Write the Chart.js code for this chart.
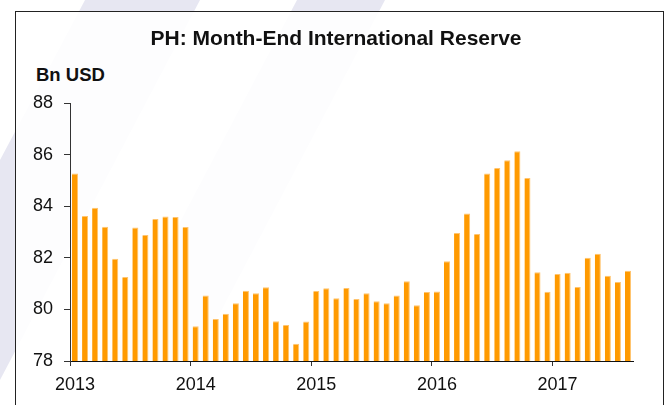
<!DOCTYPE html>
<html lang="en">
<head>
    <meta charset="UTF-8">
    <title>PH: Month-End International Reserve</title>
    <script src="https://cdn.jsdelivr.net/npm/chart.js"></script>
    <style>
        html, body {
            margin: 0;
            padding: 0;
            width: 672px;
            height: 405px;
            overflow: hidden;
            background: #fff;
            font-family: "Liberation Sans", Arial, sans-serif;
        }
        /* faint diagonal watermark bands */
        .band {
            position: absolute;
            left: 0; top: 0;
            width: 672px; height: 405px;
            background: #e7e7f2;
        }
        .band1 { clip-path: polygon(85px 0, 200px 0, 0 380px, 0 160px); }
        .band2 { clip-path: polygon(297px 0, 385px 0, 190px 370px, 102px 370px); }
        .frame {
            position: absolute;
            left: 15px; top: 11px;
            width: 647px; height: 420px;
            border: 1px solid #222;
            background: rgba(255, 255, 255, 0.9);
        }
        .unit {
            position: absolute;
            left: 36px; top: 66px;
            font-size: 18.5px;
            line-height: 18.5px;
            font-weight: bold;
            color: #111;
        }
        canvas {
            position: absolute;
            left: 0; top: 0;
        }
    </style>
</head>
<body>
    <div class="band band1"></div>
    <div class="band band2"></div>
    <div class="frame"></div>
    <div class="unit">Bn USD</div>
    <canvas id="reserveChart" width="672" height="405"></canvas>

    <script>
        const months = [
            '2013-01','2013-02','2013-03','2013-04','2013-05','2013-06','2013-07','2013-08','2013-09','2013-10','2013-11','2013-12',
            '2014-01','2014-02','2014-03','2014-04','2014-05','2014-06','2014-07','2014-08','2014-09','2014-10','2014-11','2014-12',
            '2015-01','2015-02','2015-03','2015-04','2015-05','2015-06','2015-07','2015-08','2015-09','2015-10','2015-11','2015-12',
            '2016-01','2016-02','2016-03','2016-04','2016-05','2016-06','2016-07','2016-08','2016-09','2016-10','2016-11','2016-12',
            '2017-01','2017-02','2017-03','2017-04','2017-05','2017-06','2017-07','2017-08'
        ];

        // Bn USD, month-end
        const reserves = [
            85.27, 83.62, 83.94, 83.20, 81.96, 81.26, 83.17, 82.88, 83.50, 83.60, 83.58, 83.19,
            79.35, 80.54, 79.63, 79.83, 80.24, 80.72, 80.63, 80.86, 79.54, 79.40, 78.67, 79.53,
            80.71, 80.82, 80.43, 80.83, 80.40, 80.63, 80.32, 80.24, 80.54, 81.09, 80.16, 80.67,
            80.69, 81.87, 82.96, 83.72, 82.92, 85.27, 85.48, 85.78, 86.13, 85.09, 81.44, 80.68,
            81.37, 81.42, 80.87, 82.00, 82.16, 81.30, 81.06, 81.50
        ];

        const yearLabels = ['2013', '2014', '2015', '2016', '2017'];
        const yTicks = [78, 80, 82, 84, 86, 88];

        const fontFamily = '"Liberation Sans", Arial, sans-serif';

        const ctx = document.getElementById('reserveChart').getContext('2d');
        new Chart(ctx, {
            type: 'bar',
            data: {
                labels: months,
                datasets: [{
                    label: 'International Reserve (Bn USD)',
                    data: reserves,
                    backgroundColor: '#ff9a00',
                    borderColor: '#ffc46e',
                    borderWidth: { top: 1, right: 1, left: 0, bottom: 0 },
                    borderSkipped: false,
                    categoryPercentage: 1.0,
                    barPercentage: 0.6
                }]
            },
            options: {
                responsive: false,
                animation: false,
                layout: { padding: 0 },
                plugins: {
                    legend: { display: false },
                    tooltip: { enabled: false },
                    title: {
                        display: true,
                        text: 'PH: Month-End International Reserve',
                        color: '#111',
                        font: { family: fontFamily, size: 21, weight: 'bold', lineHeight: 1.2 },
                        padding: { top: 27, bottom: 50.8 }
                    }
                },
                scales: {
                    x: {
                        grid: {
                            drawOnChartArea: false,
                            tickLength: 5,
                            color: (c) => (c.index % 12 === 0 ? '#333' : 'rgba(0,0,0,0)')
                        },
                        border: { display: true, color: '#111', width: 1 },
                        ticks: {
                            autoSkip: false,
                            maxRotation: 0,
                            padding: 8,
                            color: '#111',
                            font: { family: fontFamily, size: 18 },
                            callback: function (value, index) {
                                const m = months[index];
                                const year = m.slice(0, 4);
                                return m.endsWith('-01') && yearLabels.includes(year) ? year : '';
                            }
                        },
                        afterFit: (s) => { s.height = 44; }
                    },
                    y: {
                        min: yTicks[0],
                        max: yTicks[yTicks.length - 1],
                        afterBuildTicks: (s) => { s.ticks = yTicks.map(v => ({ value: v })); },
                        grid: { drawOnChartArea: false, tickLength: 6, color: '#333' },
                        border: { display: true, color: '#333', width: 1 },
                        ticks: {
                            padding: 11,
                            color: '#111',
                            font: { family: fontFamily, size: 18 }
                        },
                        afterFit: (s) => { s.width = 70; }
                    },
                    // empty right-hand axis, only reserves the margin to the right of the plot
                    spacer: {
                        type: 'linear',
                        position: 'right',
                        grid: { display: false },
                        border: { display: false },
                        ticks: { display: false },
                        afterFit: (s) => { s.width = 39; }
                    }
                }
            }
        });
    </script>
</body>
</html>
